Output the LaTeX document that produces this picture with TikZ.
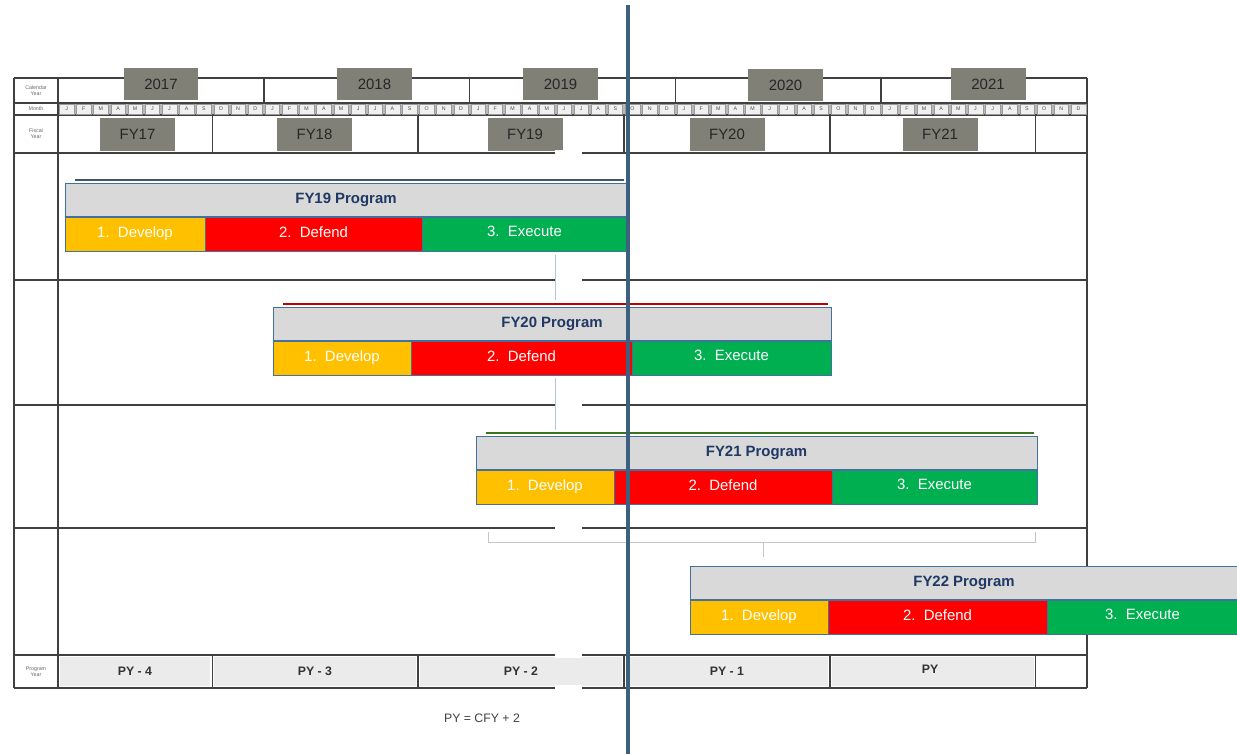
\documentclass[tikz,border=0pt]{standalone}
\usepackage{fontspec}
\setmainfont{Liberation Sans}

\definecolor{gridline}{RGB}{64,64,64}
\definecolor{yearbox}{RGB}{128,128,118}
\definecolor{titlefill}{RGB}{217,217,217}
\definecolor{titleedge}{RGB}{65,113,156}
\definecolor{titletext}{RGB}{31,56,100}
\definecolor{develop}{RGB}{255,192,0}
\definecolor{defend}{RGB}{255,0,0}
\definecolor{execute}{RGB}{0,176,80}
\definecolor{todayline}{RGB}{61,96,128}
\definecolor{pyfill}{RGB}{235,235,235}
\definecolor{accentblue}{RGB}{68,84,106}
\definecolor{accentred}{RGB}{192,0,0}
\definecolor{accentgreen}{RGB}{56,118,29}

\tikzset{
	tableline/.style={gridline,line width=0.9pt},
	yearlabel/.style={fill=yearbox,inner sep=0pt,minimum width=1.5cm,minimum height=0.66cm,
		font=\fontsize{8.5}{9}\selectfont,text=black!85},
	monthcell/.style={fill=gray!12,draw=gray!80,line width=0.2pt,inner sep=0pt,
		minimum width=0.29cm,minimum height=0.19cm,font=\fontsize{3}{3}\selectfont,text=black!70},
	rowlabel/.style={align=center,inner sep=0pt,font=\fontsize{3}{3.4}\selectfont,text=black!60},
	titlebar/.style={fill=titlefill,draw=titleedge,line width=0.5pt},
	titlelabel/.style={font=\fontsize{8.5}{9}\selectfont\bfseries,text=titletext,
		text height=6.2pt,text depth=1.8pt},
	phasebox/.style={draw=titleedge,line width=0.5pt},
	phaselabel/.style={font=\fontsize{8.5}{9}\selectfont,text=white,
		text height=6.2pt,text depth=1.8pt},
	pylabel/.style={font=\fontsize{7}{8}\selectfont\bfseries,text=black!80}
}

\begin{document}
\begin{tikzpicture}[x=0.02cm,y=-0.02cm]
	\useasboundingbox (0,0) rectangle (1237,754);
	% draw table
	\fill[gray!55] (58,103) rectangle (1087,115);
	\foreach \xa/\xb in {58/212.35,212.35/418.15,418.15/623.95,623.95/829.75,829.75/1035.55}
	\fill[pyfill] (\xa+2,657) rectangle (\xb-2,686);
	\foreach \y in {78,103,115,153,280,405,528,655,688}
	\draw[tableline] (14,\y) -- (1087,\y);
	\foreach \x in {14,58,1087}
	\draw[tableline] (\x,78) -- (\x,688);
	\foreach \x in {263.8,469.6,675.4,881.2}
	\draw[tableline] (\x,78) -- (\x,103);
	\foreach \x in {212.35,418.15,623.95,829.75,1035.55}
	{
	\draw[tableline] (\x,115) -- (\x,153);
	\draw[tableline] (\x,655) -- (\x,688);
	}
	% month row
	\foreach \yr in {0,...,4}
	\foreach \m [count=\i from 0] in {J,F,M,A,M,J,J,A,S,O,N,D}
	\node[monthcell] (m\yr-\i) at ({58+205.8*\yr+17.15*\i+8.575},109) {\m};
	% row titles
	\node[rowlabel] (calrow) at (36,90.5) {Calendar\\Year};
	\node[rowlabel] (monrow) at (36,109) {Month};
	\node[rowlabel] (fisrow) at (36,134) {Fiscal\\Year};
	\node[rowlabel] (pyrow) at (36,671.5) {Program\\Year};
	% calendar and fiscal years
	\node[yearlabel] (cy17) at (161,84) {2017};
	\node[yearlabel] (cy18) at (374.5,84) {2018};
	\node[yearlabel] (cy19) at (560.5,84) {2019};
	\node[yearlabel] (cy20) at (785.5,85) {2020};
	\node[yearlabel] (cy21) at (988,84) {2021};
	\node[yearlabel] (fy17) at (137.5,134) {FY17};
	\node[yearlabel] (fy18) at (314.5,134) {FY18};
	\node[yearlabel] (fy19) at (525,134) {FY19};
	\node[yearlabel] (fy20) at (727,134) {FY20};
	\node[yearlabel] (fy21) at (940,134) {FY21};
	% program years
	\node[pylabel] (py4) at (135,671) {PY - 4};
	\node[pylabel] (py3) at (315,671) {PY - 3};
	\node[pylabel] (py2) at (521,671) {PY - 2};
	\node[pylabel] (py1) at (727,671) {PY - 1};
	\node[pylabel] (py0) at (930,669) {PY};
	\node[font=\fontsize{7}{8}\selectfont,text=black!75] (pyrule) at (482,718) {PY = CFY + 2};
	% white gap
	\fill[white] (555,150) rectangle (582,652);
	\fill[white] (555,652) rectangle (582,658);
	\fill[white] (555,685) rectangle (582,692);
	\draw[titleedge!40,line width=0.4pt] (555,255) -- (555,300) (555,378) -- (555,430);
	% draw programs
	\foreach \prog/\xa/\xb/\xc/\xd/\ytop/\accent in {FY19/65/205/422/627/183/accentblue,
		FY20/273/411/632/831/307/accentred,FY21/476/614/832/1037/436/accentgreen,
		FY22/690/828/1047/1238/566/none}
	{
	\draw[draw=\accent,line width=1.6pt] (\xa+10,\ytop-3) -- (\xd-3,\ytop-3);
	\path[titlebar] (\xa,\ytop) rectangle (\xd,\ytop+33);
	\node[titlelabel] (\prog-title) at ({(\xa+\xd)/2},\ytop+16.5) {\prog{} Program};
	\path[phasebox,fill=develop] (\xa,\ytop+34) rectangle (\xb,\ytop+68);
	\path[phasebox,fill=defend] (\xb,\ytop+34) rectangle (\xc,\ytop+68);
	\path[phasebox,fill=execute] (\xc,\ytop+34) rectangle (\xd,\ytop+68);
	\node[phaselabel] (\prog-dev) at ({(\xa+\xb)/2},\ytop+51) {1.~~Develop};
	\node[phaselabel] (\prog-def) at ({(\xb+\xc)/2},\ytop+51) {2.~~Defend};
	\node[phaselabel] (\prog-exe) at ({(\xc+\xd)/2},\ytop+50) {3.~~Execute};
	}
	% bracket under FY21
	\draw[gray!45,line width=0.4pt] (488,532) -- (488,542) -- (1035,542) -- (1035,532);
	\draw[gray!45,line width=0.4pt] (763,542) -- (763,557);
	% current date line
	\draw[todayline,line width=2.8pt] (628,5) -- (628,754);
\end{tikzpicture}
\end{document}
